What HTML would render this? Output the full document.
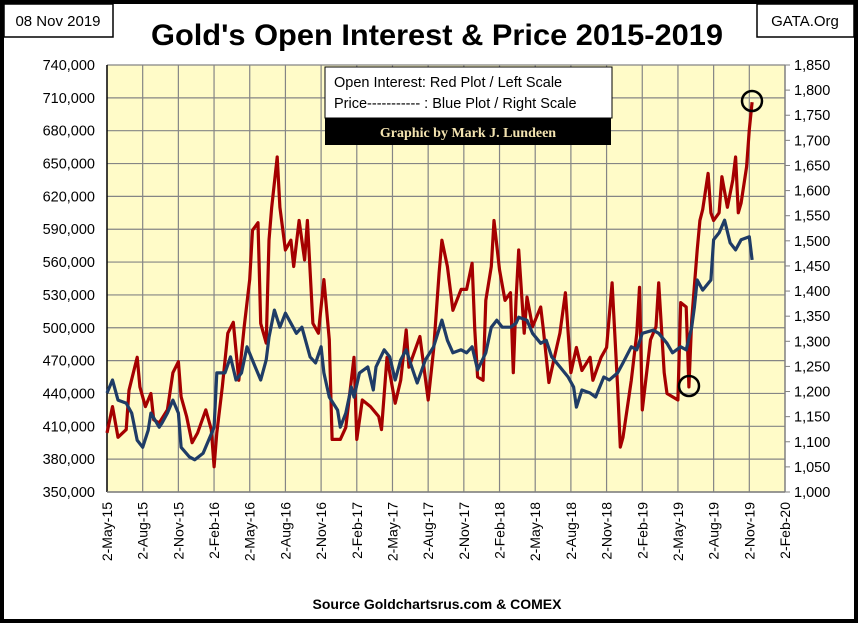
<!DOCTYPE html>
<html><head><meta charset="utf-8"><style>
body{margin:0;background:#fff;}
svg{display:block;font-family:"Liberation Sans",sans-serif;}
</style></head><body>
<svg width="858" height="623" viewBox="0 0 858 623">
<rect x="2" y="2" width="854" height="619" fill="#fff" stroke="#000" stroke-width="4"/>
<rect x="4" y="4" width="109" height="33" fill="#fff" stroke="#000" stroke-width="1.5"/>
<text x="58" y="26" font-size="15" text-anchor="middle">08 Nov 2019</text>
<rect x="757" y="4" width="97" height="33" fill="#fff" stroke="#000" stroke-width="1.5"/>
<text x="805" y="26" font-size="15" text-anchor="middle">GATA.Org</text>
<text x="437" y="45" font-size="30" font-weight="bold" text-anchor="middle" textLength="572" lengthAdjust="spacingAndGlyphs">Gold's Open Interest &amp; Price 2015-2019</text>
<rect x="107" y="65" width="678" height="427" fill="#fffbc8"/>
<g id="grid"></g>
<g id="axes"></g>
<g id="series"></g>
<rect x="325" y="67" width="287" height="51" fill="#fff" stroke="#000" stroke-width="1"/>
<text x="334" y="87" font-size="14.5">Open Interest:  Red Plot / Left Scale</text>
<text x="334" y="108" font-size="14.5">Price----------- : Blue Plot / Right Scale</text>
<rect x="325" y="118" width="286" height="27" fill="#000"/>
<text x="468" y="137" font-size="14" font-weight="bold" fill="#f3e3b0" text-anchor="middle" font-family="Liberation Serif,serif">Graphic by Mark J. Lundeen</text>
<circle cx="752" cy="101" r="10" fill="none" stroke="#000" stroke-width="2.5"/>
<circle cx="689" cy="386" r="10" fill="none" stroke="#000" stroke-width="2.5"/>
<text x="437" y="609" font-size="14" font-weight="bold" text-anchor="middle">Source Goldchartsrus.com &amp; COMEX</text>
</svg>
<script>
const oiWeeks=[0,2,4,7,8,11,12,14,16,17,19,22,24,26,27,29,31,33,36,38,39,40,42,44,46,48,50,52,53,55,56,58,59,60,62,63,65,67,68,70,72,73,75,77,79,81,82,83,85,87,90,91,93,96,99,100,102,105,107,109,110,114,117,119,121,122,124,126,129,131,133,134,135,137,138,140,141,143,145,147,148,149,150,152,153,155,158,159,161,163,165,167,169,171,173,176,177,180,182,184,186,187,188,191,193,194,195,198,200,201,203,204,208,209,211,212,213,215,216,217,219,220,221,223,224,226,228,229,230,231,233,234,235];
const oiValues=[404,428,400,407,443,473,446,428,440,416,413,425,459,469,437,419,395,404,425,407,373,404,446,495,505,452,501,544,589,596,504,486,580,610,656,610,571,580,556,598,562,598,504,495,544,489,398,398,398,409,473,398,434,428,419,407,473,431,452,498,464,492,434,480,550,580,556,516,535,535,559,498,455,452,525,556,598,553,525,532,459,525,571,495,528,501,519,498,450,473,495,532,459,482,461,473,452,473,482,541,446,391,400,452,495,537,425,489,501,541,459,440,434,523,519,446,507,571,598,608,641,605,598,605,638,610,635,656,605,614,647,681,706];
const priceWeeks=[0,2,4,7,9,11,13,15,16,19,20,22,24,26,27,30,32,35,37,39,40,43,45,47,49,51,54,56,58,59,61,63,65,67,69,71,74,76,78,79,81,84,85,87,89,90,92,95,97,98,101,103,105,107,109,111,113,116,119,122,124,126,129,131,133,135,138,140,142,144,147,149,150,153,155,158,160,162,165,168,170,171,173,176,178,181,183,186,188,191,193,195,199,201,204,206,209,211,213,214,215,217,220,221,223,225,227,229,231,234,235];
const priceValues=[1197,1223,1183,1177,1157,1103,1089,1123,1157,1129,1137,1157,1183,1157,1089,1070,1064,1077,1103,1129,1237,1237,1269,1223,1237,1289,1249,1223,1263,1308,1362,1328,1356,1336,1316,1328,1269,1257,1289,1237,1189,1163,1129,1157,1209,1189,1237,1249,1203,1249,1283,1269,1223,1263,1283,1249,1217,1263,1289,1342,1302,1277,1283,1277,1289,1243,1277,1328,1342,1328,1328,1336,1348,1342,1316,1296,1302,1269,1249,1229,1209,1169,1203,1197,1189,1229,1223,1237,1257,1289,1283,1316,1322,1316,1296,1277,1289,1283,1328,1368,1422,1402,1422,1502,1516,1541,1496,1482,1502,1508,1462];
const leftTicks=[350000,380000,410000,440000,470000,500000,530000,560000,590000,620000,650000,680000,710000,740000];
const rightTicks=[1000,1050,1100,1150,1200,1250,1300,1350,1400,1450,1500,1550,1600,1650,1700,1750,1800,1850];
const xTickLabels=['2-May-15','2-Aug-15','2-Nov-15','2-Feb-16','2-May-16','2-Aug-16','2-Nov-16','2-Feb-17','2-May-17','2-Aug-17','2-Nov-17','2-Feb-18','2-May-18','2-Aug-18','2-Nov-18','2-Feb-19','2-May-19','2-Aug-19','2-Nov-19','2-Feb-20'];
const NS='http://www.w3.org/2000/svg';
const L=107,R=785,T=65,B=492;
const qW=(R-L)/19;
const xW=w=>L+w*qW/13;
const xQ=i=>L+i*qW;
const yL=v=>B-(v-350000)/(740000-350000)*(B-T);
const yR=v=>B-(v-1000)/(1850-1000)*(B-T);
function mk(tag,attrs,parent){const e=document.createElementNS(NS,tag);for(const k in attrs)e.setAttribute(k,attrs[k]);parent.appendChild(e);return e;}
const grid=document.getElementById('grid'),axes=document.getElementById('axes'),series=document.getElementById('series');
leftTicks.forEach(v=>{
  const g=mk('line',{x1:L,x2:R,y1:yL(v),y2:yL(v),stroke:'#858585','stroke-width':1.2},grid);
  
  
  const t=mk('text',{x:L-12,y:yL(v)+5,'font-size':14.5,'text-anchor':'end'},axes);
  t.textContent=v.toLocaleString('en-US');
  
  
});
xTickLabels.forEach((s,i)=>{
  const x=xQ(i);
  if(i>0&&i<19){const g=mk('line',{x1:x,x2:x,y1:T,y2:B,stroke:'#858585','stroke-width':1.2},grid);
  
  }
  const t=mk('text',{x:0,y:0,'font-size':14,'text-anchor':'end',transform:`translate(${x+5},${B+10}) rotate(-90)`},axes);
  t.textContent=s;
  
  
});
rightTicks.forEach(v=>{
  const y=yR(v);
  const k=mk('line',{x1:R,x2:R+5,y1:y,y2:y,stroke:'#808080','stroke-width':1},axes);
  
  
  const t=mk('text',{x:R+9,y:y+5,'font-size':14.5},axes);
  t.textContent=v.toLocaleString('en-US');
  
  
});
const ax1=mk('line',{x1:L,x2:L,y1:T,y2:B,stroke:'#000','stroke-width':1.5},axes);


const ax2=mk('line',{x1:R,x2:R,y1:T,y2:B,stroke:'#808080','stroke-width':1.5},axes);


const ax3=mk('line',{x1:L,x2:R,y1:B,y2:B,stroke:'#808080','stroke-width':1.5},axes);


const oiPts=oiWeeks.map((w,i)=>xW(w).toFixed(1)+','+yL(oiValues[i]*1000).toFixed(1)).join(' ');
const red=mk('polyline',{points:oiPts,fill:'none',stroke:'#a50000','stroke-width':3.2,'stroke-linejoin':'round'},series);


const pPts=priceWeeks.map((w,i)=>xW(w).toFixed(1)+','+yR(priceValues[i]).toFixed(1)).join(' ');
const blue=mk('polyline',{points:pPts,fill:'none',stroke:'#1f3c66','stroke-width':3.2,'stroke-linejoin':'round'},series);


</script>
</body></html>
